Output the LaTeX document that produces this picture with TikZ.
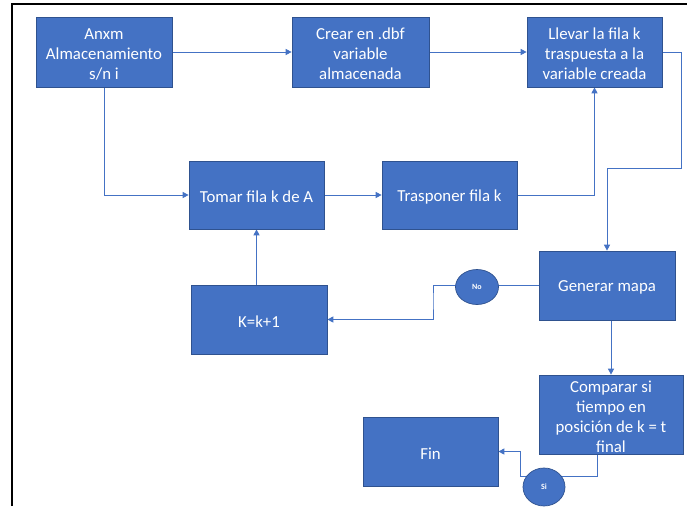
\documentclass[tikz,border=0pt]{standalone}
\usepackage{fontspec}
\setmainfont{Carlito}
\usetikzlibrary{arrows.meta,shapes.geometric}
\definecolor{boxblue}{HTML}{4472C4}
\definecolor{boxedge}{HTML}{2F528F}
\pgfdeclarelayer{background}
\pgfsetlayers{background,main}
\tikzset{
  stepbox/.style={rectangle, fill=boxblue, draw=boxedge, line width=0.7pt,
    text=white, align=center, inner sep=0pt,
    font=\fontsize{16.8}{20}\selectfont},
  answer/.style={ellipse, fill=boxblue, draw=boxedge, line width=0.7pt,
    text=white, inner sep=0pt, font=\fontsize{8}{9}\selectfont\bfseries},
  link/.style={draw=boxblue, line width=0.9pt},
  arr/.style={link, -{Triangle[length=6pt,width=6pt]}}
}
\begin{document}
\begin{tikzpicture}[x=1pt,y=-1pt]
\useasboundingbox (0,0) rectangle (687,506);

% process boxes (text lowered slightly inside each box)
\node[stepbox, minimum width=136pt, minimum height=70pt] (anxm) at (104,52) {};
\node[stepbox, minimum width=137pt, minimum height=70pt] (crear) at (360.5,52) {};
\node[stepbox, minimum width=135pt, minimum height=70pt] (llevar) at (594.5,52) {};
\node[stepbox, minimum width=135pt, minimum height=68pt] (tomar) at (256.5,195) {};
\node[stepbox, minimum width=135pt, minimum height=68pt] (trasp) at (449.5,195) {};
\node[stepbox, minimum width=136pt, minimum height=69pt] (kk) at (259,319.5) {};
\node[stepbox, minimum width=136pt, minimum height=69pt] (gen) at (607,285.5) {};
\node[stepbox, minimum width=144pt, minimum height=79pt] (comp) at (611,414.5) {};
\node[stepbox, minimum width=135pt, minimum height=69pt] (fin) at (430.5,451.5) {};

\tikzset{boxtext/.style={text=white, align=center, inner sep=0pt,
    font=\fontsize{16.8}{20}\selectfont, yshift=-2pt}}
\node[boxtext] (anxmtext) at (anxm) {Anxm\\Almacenamiento\\s/n i};
\node[boxtext] (creartext) at (crear) {Crear en .dbf\\variable\\almacenada};
\node[boxtext] (llevartext) at (llevar) {Llevar la fila k\\traspuesta a la\\variable creada};
\node[boxtext] (tomartext) at (tomar) {Tomar fila k de A};
\node[boxtext] (trasptext) at (trasp) {Trasponer fila k};
\node[boxtext] (kktext) at (kk) {K=k+1};
\node[boxtext] (gentext) at (gen) {Generar mapa};
\node[boxtext] (comptext) at (comp) {Comparar si\\tiempo en\\posición de k = t\\final};
\node[boxtext] (fintext) at (fin) {Fin};

% decision labels
\node[answer, minimum width=43pt, minimum height=35pt] (no) at (477,287) {No};
\node[answer, minimum width=42pt, minimum height=38pt] (si) at (544,487) {Si};

% bend points
\coordinate (rturn) at (681,168);
\coordinate (nobend) at (433,300);
\coordinate (sibend) at (520,476);

\begin{pgfonlayer}{background}
  \fill[white] (0,0) rectangle (687,506);
  % outer frame (runs off the right and bottom edges)
  \draw[black, line width=2pt] (12,506) -- (12,4) -- (687,4);
  \draw[arr] (anxm.east) -- (crear.west);
  \draw[arr] (crear.east) -- (llevar.west);
  \draw[arr] (anxm.south) |- (tomar.west);
  \draw[arr] (tomar.east) -- (trasp.west);
  \draw[arr] (trasp.east) -| (llevar.south);
  \draw[arr] (llevar.east) -| (rturn) -| (gen.north);
  \draw[arr] (comp.north |- gen.south) -- (comp.north);
  \draw[arr] (gen.west) -| (nobend) |- (kk.east);
  \draw[arr] (tomar.south |- kk.north) -- (tomar.south);
  \draw[arr] ([xshift=-14pt]comp.south) |- (sibend) |- (fin.east);
\end{pgfonlayer}
\end{tikzpicture}
\end{document}
